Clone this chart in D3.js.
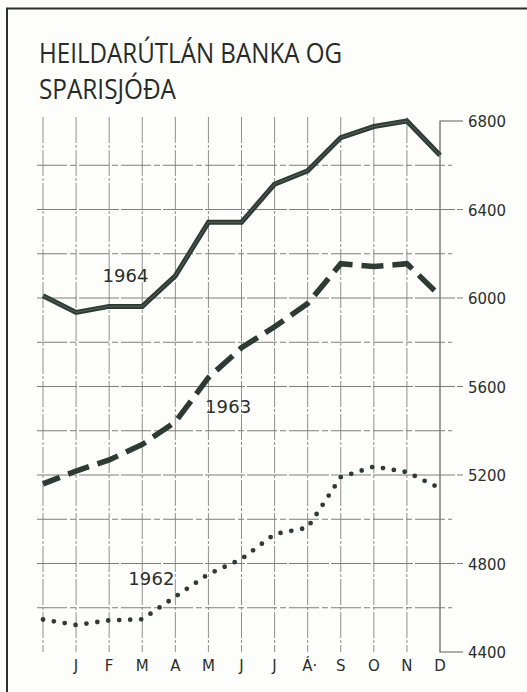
<!DOCTYPE html>
<html><head><meta charset="utf-8">
<script src="https://cdn.jsdelivr.net/npm/d3@7"></script>
<style>
html,body{margin:0;padding:0;background:#fdfdfc;}
svg{display:block;}
</style></head>
<body>
<svg id="c" width="527" height="692"></svg>
<script>
// ---- data ----
const title = ["HEILDARÚTLÁN BANKA OG", "SPARISJÓÐA"];
const months = ["", "J", "F", "M", "A", "M", "J", "J", "Á·", "S", "O", "N", "D"];
const yTicks = [4400, 4800, 5200, 5600, 6000, 6400, 6800];
const yMinor = [4600, 5000, 5400, 5800, 6200, 6600];
const series1964 = [6010, 5935, 5962, 5962, 6100, 6342, 6342, 6515, 6575, 6725, 6775, 6800, 6645];
const series1963 = [5160, 5218, 5268, 5338, 5440, 5640, 5775, 5870, 5975, 6155, 6142, 6155, 6010];
const series1962 = [4547, 4522, 4543, 4548, 4650, 4752, 4820, 4933, 4962, 5190, 5238, 5213, 5140];
const seriesNames = ["1964", "1963", "1962"];

// ---- chart ----
const svg = d3.select("#c");
const ink = "#2e3b34";
const gridCol = "#7c7f7c";

const x = d3.scaleLinear().domain([0, 12]).range([43, 440]);
const y = d3.scaleLinear().domain([4400, 6800]).range([652, 121]);

// frame
svg.append("path").attr("d", "M7,700 L7,8.5 L530,8.5")
  .attr("fill", "none").attr("stroke", "#2a2f2c").attr("stroke-width", 2);

// title
svg.append("g").selectAll("text").data(title).join("text")
  .attr("x", 39).attr("y", (d, i) => 63 + i * 36)
  .attr("font-family", "'Open Sans', 'DejaVu Sans', sans-serif")
  .attr("font-size", 27).attr("fill", "#262b28")
  .attr("textLength", (d, i) => i === 0 ? 303 : 137).attr("lengthAdjust", "spacingAndGlyphs")
  .text(d => d);

const grid = svg.append("g").attr("fill", "none");
// vertical grid lines
grid.selectAll("line.v").data(d3.range(12)).join("line")
  .attr("x1", i => x(i)).attr("x2", i => x(i))
  .attr("y1", 117).attr("y2", y(4400))
  .attr("stroke", "#8d8f8d").attr("stroke-width", 1).attr("stroke-dasharray", "26,2,3,2");
// right bracket axis at D
grid.append("path")
  .attr("d", `M463,${y(6800)} L${x(12)},${y(6800)} L${x(12)},${y(4400)} L463,${y(4400)}`)
  .attr("stroke", "#5d605d").attr("stroke-width", 1.2);
// horizontal grid lines
grid.selectAll("line.maj").data(yTicks.filter(v => v > 4400 && v < 6800)).join("line")
  .attr("x1", 37).attr("x2", 463).attr("y1", d => y(d)).attr("y2", d => y(d))
  .attr("stroke", gridCol).attr("stroke-width", 1.1).attr("stroke-dasharray", "40,2");
grid.selectAll("line.min").data(yMinor).join("line")
  .attr("x1", 37).attr("x2", 452).attr("y1", d => y(d)).attr("y2", d => y(d))
  .attr("stroke", gridCol).attr("stroke-width", 1.1).attr("stroke-dasharray", "30,3,6,3");

// y labels
svg.append("g").selectAll("text").data(yTicks).join("text")
  .attr("x", 468).attr("y", d => y(d) + 6)
  .attr("font-family", "'DejaVu Sans', sans-serif").attr("font-size", 15)
  .attr("fill", "#2a2f2c").attr("textLength", 38).attr("lengthAdjust", "spacingAndGlyphs")
  .text(d => d);

// month labels
svg.append("g").selectAll("text").data(months).join("text")
  .attr("x", (d, i) => x(i) - (d.length > 1 ? 5.5 : 0))
  .attr("y", 671)
  .attr("text-anchor", d => d.length > 1 ? "start" : "middle")
  .attr("font-family", "'DejaVu Sans', sans-serif").attr("font-size", 15)
  .attr("fill", "#2a2f2c").text(d => d);

const line = d3.line().x((d, i) => x(i)).y(d => y(d));

// 1964 solid
svg.append("path").datum(series1964).attr("d", line)
  .attr("fill", "none").attr("stroke", ink).attr("stroke-width", 5).attr("stroke-linejoin", "miter");
svg.append("path").datum(series1964).attr("d", line)
  .attr("fill", "none").attr("stroke", "#56645c").attr("stroke-width", 1);

// 1963 dashed
svg.append("path").datum(series1963).attr("d", line)
  .attr("fill", "none").attr("stroke", ink).attr("stroke-width", 5.5)
  .attr("stroke-dasharray", "22,9").attr("stroke-dashoffset", 4);

// 1962 dotted
svg.append("path").datum(series1962).attr("d", line)
  .attr("fill", "none").attr("stroke", ink).attr("stroke-width", 4.8)
  .attr("stroke-linecap", "round").attr("stroke-dasharray", "0,11");

// series labels
const lblPos = [[1.8, 282], [4.9, 413], [2.58, 585]];
svg.append("g").selectAll("text").data(seriesNames).join("text")
  .attr("x", (d, i) => x(lblPos[i][0]))
  .attr("y", (d, i) => lblPos[i][1])
  .attr("font-family", "'DejaVu Sans', sans-serif").attr("font-size", 18)
  .attr("fill", "#2a2f2c").attr("textLength", 46).attr("lengthAdjust", "spacing")
  .text(d => d);
</script>
</body></html>
